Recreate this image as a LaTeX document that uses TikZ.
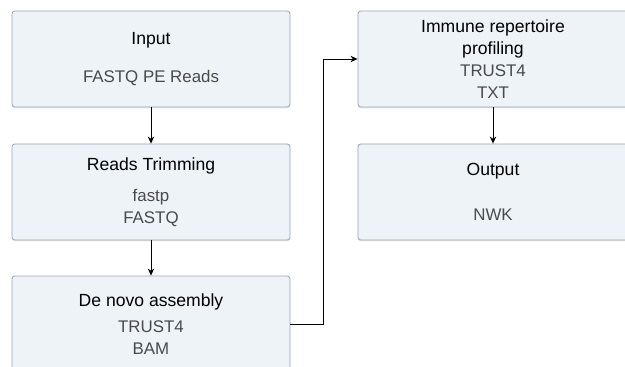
\documentclass[tikz,border=0pt]{standalone}
\usepackage{fontspec}
\setmainfont{Liberation Sans}
\usetikzlibrary{arrows.meta,shadows}
\definecolor{boxfill}{HTML}{EEF3F8}
\definecolor{boxline}{HTML}{9AA6B6}
\definecolor{bodytext}{HTML}{4A4A4A}
\newcommand{\stagetitle}[1]{{\color{black}\fontsize{12.5}{15.5}\selectfont #1}}
\begin{document}
\begin{tikzpicture}[x=0.025cm, y=-0.025cm,
    stagebox/.style={draw=boxline, fill=boxfill, rounded corners=2pt, line width=0.6pt,
      minimum width=278*0.025cm, minimum height=96*0.025cm, align=center,
      text=bodytext, font=\fontsize{12}{15.5}\selectfont,
      drop shadow={shadow xshift=0pt, shadow yshift=-1pt, opacity=0.2}},
    arr/.style={-{Stealth[length=5pt,width=4.5pt]}, line width=0.6pt}]
        \useasboundingbox (0,0) rectangle (625,367);
        \clip (0,0) rectangle (625,367);
        % Stages
        \node[stagebox] (input) at (151,59) {\stagetitle{Input}\\[11pt] FASTQ PE Reads};
        \node[stagebox] (trim) at (151,192) {\stagetitle{Reads Trimming}\\[7pt] fastp\\ FASTQ};
        \node[stagebox] (denovo) at (151,324) {\stagetitle{De novo assembly}\\[3.5pt] TRUST4\\ BAM};
        \node[stagebox, minimum width=270*0.025cm] (immune) at (493,59) {\stagetitle{Immune repertoire}\\ \stagetitle{profiling}\\ TRUST4\\ TXT};
        \node[stagebox, minimum width=270*0.025cm] (output) at (493,192) {\stagetitle{Output}\\[17pt] NWK};
        
        % Flow
        \draw[arr] (input) -- (trim);
        \draw[arr] (trim) -- (denovo);
        \draw[arr] (denovo.east) -- ++(33,0) |- (immune.west);
        \draw[arr] (immune) -- (output);
    \end{tikzpicture}
\end{document}
